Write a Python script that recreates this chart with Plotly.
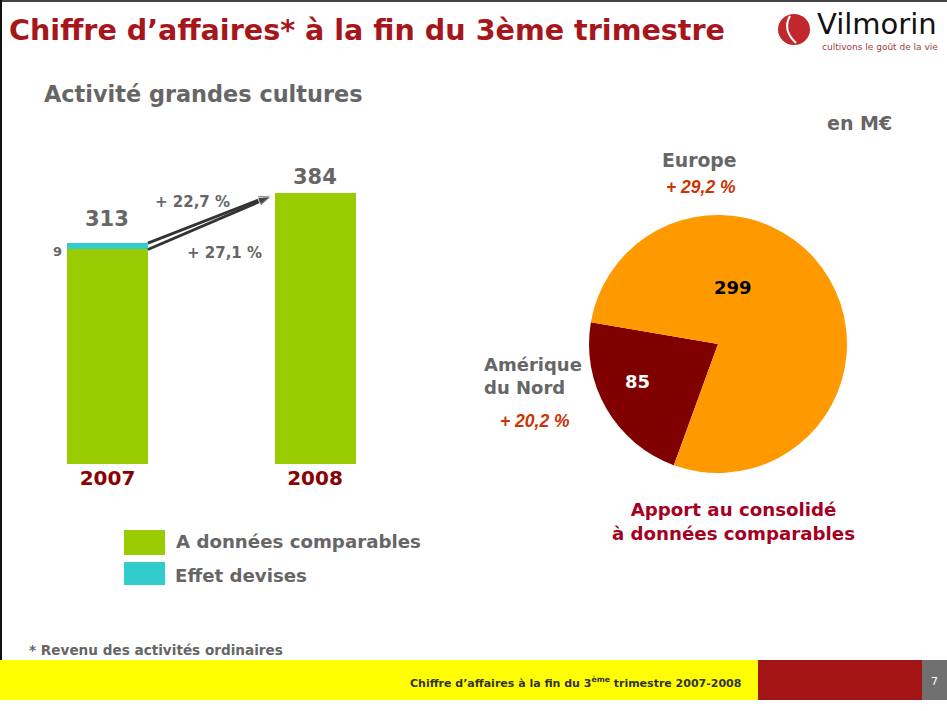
import plotly.graph_objects as go

# bar chart data (M€)
years = ['2007', '2008']
comparable = [304, 384]
currency_effect = [9, 0]
totals = [313, 384]
growth_labels = ['+ 22,7 %', '+ 27,1 %']

# pie data (M€)
regions = ['Amérique du Nord', 'Europe']
region_values = [85, 299]
region_growth = ['+ 20,2 %', '+ 29,2 %']

GREEN = '#99CC00'
CYAN = '#33CCCC'
GRAY = '#666666'
DARKRED = '#8B0000'
TITLE_RED = '#A6161A'
FONT = 'DejaVu Sans, sans-serif'
ITALIC_FONT = 'Liberation Sans, Arial, sans-serif'

W, H = 947, 711
BAR_RANGE = [-0.325, 1.313]


def px_x(v):
    return v / W


def px_y(v):
    return 1 - v / H


def label(x, y, text, size, color=GRAY, xanchor='center', align='center', family=FONT):
    return dict(x=px_x(x), y=px_y(y), xref='paper', yref='paper', xanchor=xanchor,
                yanchor='middle', align=align, text=text, showarrow=False,
                font=dict(size=size, color=color, family=family))


fig = go.Figure()

fig.add_trace(go.Bar(
    x=years, y=comparable, name='A données comparables',
    marker=dict(color=GREEN, line=dict(width=0)), width=0.39,
    hoverinfo='skip'
))
fig.add_trace(go.Bar(
    x=years, y=currency_effect, name='Effet devises',
    marker=dict(color=CYAN, line=dict(width=0)), width=0.39,
    hoverinfo='skip'
))

# growth arrows, drawn on a linear overlay of the bar axis
for y0, y1 in [(totals[0], totals[1] - 3), (comparable[0], totals[1] - 5)]:
    fig.add_trace(go.Scatter(
        x=[0.195, 0.79], y=[y0, y1], xaxis='x2', yaxis='y', mode='lines+markers',
        line=dict(color='#333333', width=2.8),
        marker=dict(symbol='arrow', angleref='previous', size=[0, 14], color='#333333'),
        hoverinfo='skip', showlegend=False
    ))

fig.add_trace(go.Pie(
    labels=regions, values=region_values, sort=False, direction='clockwise',
    rotation=200, textinfo='none', hoverinfo='skip',
    marker=dict(colors=['#800000', '#FF9900'], line=dict(width=0)),
    domain=dict(x=[px_x(589), px_x(847)], y=[px_y(473), px_y(215)]),
    showlegend=False
))

annotations = []

# totals above bars
for i, (tot, shift) in enumerate(zip(totals, [10, 2])):
    annotations.append(dict(
        x=i, y=tot, xref='x', yref='y', text=f'<b>{tot}</b>', showarrow=False,
        yanchor='bottom', yshift=shift, font=dict(size=21, color=GRAY, family=FONT)))

# currency effect value
annotations.append(dict(
    x=0, y=comparable[0] + currency_effect[0] / 2, xref='x', yref='y',
    text=f'<b>{currency_effect[0]}</b>', showarrow=False, xanchor='right', yanchor='middle',
    xshift=-43, yshift=-5, font=dict(size=13, color=GRAY, family=FONT)))

annotations.append(label(192, 202, f'<b>{growth_labels[0]}</b>', 15))
annotations.append(label(224, 253, f'<b>{growth_labels[1]}</b>', 15))

# legend texts
annotations.append(label(174, 541, '<b>A données comparables</b>', 18.2, xanchor='left'))
annotations.append(label(173, 575, '<b>Effet devises</b>', 18.2, xanchor='left'))

# pie labels
annotations.append(label(733, 288, f'<b>{region_values[1]}</b>', 18, color='black'))
annotations.append(label(637, 382, f'<b>{region_values[0]}</b>', 18, color='white'))
annotations.append(label(699, 160, '<b>Europe</b>', 18.8))
annotations.append(label(701, 187, f'<b><i>{region_growth[1]}</i></b>', 17.5, color='#CC3300',
                         family=ITALIC_FONT))
annotations.append(label(482, 376, '<b>Amérique<br>du Nord</b>', 18, xanchor='left', align='left'))
annotations.append(label(535, 421, f'<b><i>{region_growth[0]}</i></b>', 17.5, color='#CC3300',
                         family=ITALIC_FONT))
annotations.append(label(733, 521, '<b>Apport au consolidé<br>à données comparables</b>', 18.2,
                         color='#A50021'))
annotations.append(label(894, 123, '<b>en M€</b>', 19, xanchor='right'))

# titles and footer
annotations.append(label(7, 30, '<b>Chiffre d’affaires* à la fin du 3ème trimestre</b>', 28.6,
                         color=TITLE_RED, xanchor='left'))
annotations.append(label(42, 94, '<b>Activité grandes cultures</b>', 22.4, xanchor='left'))
annotations.append(label(27, 650, '<b>* Revenu des activités ordinaires</b>', 13.6, xanchor='left'))
annotations.append(label(743, 682,
                         '<b>Chiffre d’affaires à la fin du 3<sup>ème</sup> trimestre 2007-2008</b>',
                         11, color='#333333', xanchor='right'))
annotations.append(label(934, 681, '7', 11, color='white'))

# logo
annotations.append(label(815, 24, 'Vilmorin', 29, color='#111111', xanchor='left'))
annotations.append(label(820, 47, 'cultivons le goût de la vie', 9, color='#A04040', xanchor='left'))

shapes = [
    # page borders
    dict(type='rect', xref='paper', yref='paper', x0=0, x1=1, y0=px_y(2), y1=1,
         fillcolor='#444444', line=dict(width=0)),
    dict(type='rect', xref='paper', yref='paper', x0=0, x1=px_x(2), y0=px_y(660), y1=1,
         fillcolor='#111111', line=dict(width=0)),
    # footer band
    dict(type='rect', xref='paper', yref='paper', x0=0, x1=px_x(758), y0=px_y(700), y1=px_y(660),
         fillcolor='#FFFF00', line=dict(width=0)),
    dict(type='rect', xref='paper', yref='paper', x0=px_x(758), x1=px_x(922), y0=px_y(700),
         y1=px_y(660), fillcolor='#A31515', line=dict(width=0)),
    dict(type='rect', xref='paper', yref='paper', x0=px_x(922), x1=1, y0=px_y(700), y1=px_y(660),
         fillcolor='#707070', line=dict(width=0)),
    # legend swatches
    dict(type='rect', xref='paper', yref='paper', x0=px_x(124), x1=px_x(165), y0=px_y(555),
         y1=px_y(530), fillcolor=GREEN, line=dict(width=0)),
    dict(type='rect', xref='paper', yref='paper', x0=px_x(124), x1=px_x(165), y0=px_y(585),
         y1=px_y(562), fillcolor=CYAN, line=dict(width=0)),
    # logo mark
    dict(type='circle', xref='paper', yref='paper', x0=px_x(778), x1=px_x(810), y0=px_y(45),
         y1=px_y(14), fillcolor='#C0282D', line=dict(width=0)),
    dict(type='path', xref='paper', yref='paper',
         path=f'M {px_x(790)} {px_y(16)} Q {px_x(782)} {px_y(30)} {px_x(796)} {px_y(43)}',
         line=dict(color='white', width=2)),
]

fig.update_layout(
    width=W, height=H,
    margin=dict(l=0, r=0, t=0, b=0),
    paper_bgcolor='white', plot_bgcolor='white',
    barmode='stack', bargap=0,
    showlegend=False,
    xaxis=dict(domain=[px_x(40), px_x(380)], range=BAR_RANGE, type='category',
               showgrid=False, zeroline=False, showline=False, ticks='',
               tickfont=dict(size=20, color=DARKRED, family=FONT),
               tickvals=years, ticktext=[f'<b>{y}</b>' for y in years]),
    xaxis2=dict(domain=[px_x(40), px_x(380)], range=BAR_RANGE, overlaying='x',
                visible=False),
    yaxis=dict(domain=[px_y(464), px_y(150)], range=[0, 444.9], visible=False),
    annotations=annotations,
    shapes=shapes,
)

fig.write_html('out.html', config={'displayModeBar': False},
               post_script="document.body.style.margin='0';")
